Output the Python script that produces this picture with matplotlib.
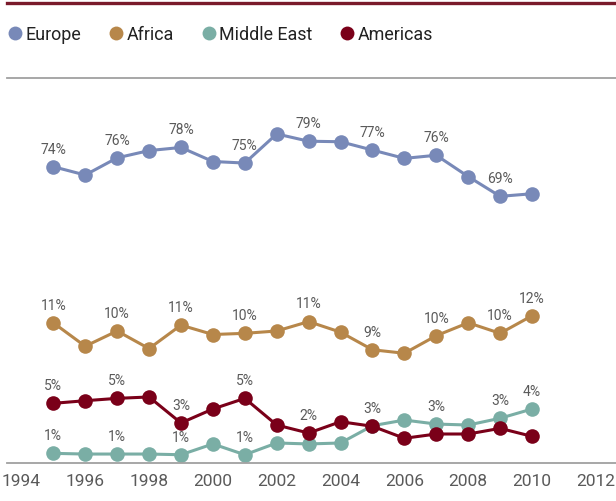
import numpy as np
import matplotlib
matplotlib.use('Agg')
import matplotlib.pyplot as plt
from matplotlib.lines import Line2D

plt.rcParams['font.family'] = ['Roboto', 'DejaVu Sans']

# data (share, %)
years = list(range(1995, 2011))
europe = [74.0, 72.4, 75.7, 77.1, 77.7, 75.0, 74.7, 80.3, 78.9, 78.8, 77.2, 75.6, 76.2, 72.1, 68.3, 68.8]
africa = [11.4, 9.4, 10.7, 9.2, 11.2, 10.4, 10.5, 10.7, 11.5, 10.6, 9.1, 8.8, 10.3, 11.4, 10.5, 12.0]
middle_east = [1.06, 1.01, 1.01, 1.01, 0.96, 1.74, 0.96, 1.81, 1.74, 1.81, 3.06, 3.47, 3.18, 3.11, 3.6, 4.27]
americas = [4.68, 4.87, 5.04, 5.14, 3.26, 4.27, 5.04, 3.11, 2.53, 3.35, 3.02, 2.15, 2.46, 2.46, 2.87, 2.29]

# printed point labels (None = no label)
europe_lbl = ['74%', None, '76%', None, '78%', None, '75%', None, '79%', None, '77%', None, '76%', None, '69%', None]
africa_lbl = ['11%', None, '10%', None, '11%', None, '10%', None, '11%', None, '9%', None, '10%', None, '10%', '12%']
middle_east_lbl = ['1%', None, '1%', None, '1%', None, '1%', None, None, None, '3%', None, '3%', None, '3%', '4%']
americas_lbl = ['5%', None, '5%', None, '3%', None, '5%', None, '2%', None, None, None, None, None, None, None]

names = ['Europe', 'Africa', 'Middle East', 'Americas']
colors = ['#7889b8', '#b7874a', '#7aaea5', '#7a0019']
xticks = list(range(1994, 2013, 2))

# broken-ish value axis: low shares stretched, high shares squeezed
val_knots = [0, 5.5, 13, 65, 95]
pos_knots = [33, 109, 197, 287.5, 443.5]


def fwd(v):
    return np.interp(v, val_knots, pos_knots)


def inv(p):
    return np.interp(p, pos_knots, val_knots)


fig = plt.figure(figsize=(6.16, 5.02), dpi=100)
ax = fig.add_axes([7 / 616, 37.7 / 502, 609 / 616, 385 / 502])
ax.set_yscale('function', functions=(fwd, inv))

series = [(europe, europe_lbl), (africa, africa_lbl),
          (middle_east, middle_east_lbl), (americas, americas_lbl)]
for (vals, lbls), c in zip(series, colors):
    ax.plot(years, vals, color=c, lw=2.2, marker='o', markersize=10.5,
            markeredgewidth=0, clip_on=False)
    for yr, v, t in zip(years, vals, lbls):
        if t is None:
            continue
        ax.annotate(t, (yr, v), xytext=(0, 8), textcoords='offset points',
                    ha='center', va='bottom', fontsize=10, color='#5a5a5a', zorder=5)

ax.set_xlim(1993.55, 2012.63)
ax.set_ylim(inv(37.7), inv(422.7))
ax.set_xticks(xticks)
ax.set_yticks([])
ax.minorticks_off()
ax.tick_params(axis='x', length=0, pad=7, labelsize=12.5, labelcolor='#5a5a5a')
for s in ['left', 'right']:
    ax.spines[s].set_visible(False)
for s in ['top', 'bottom']:
    ax.spines[s].set_color('#a0a0a0')
    ax.spines[s].set_linewidth(1.3)

# dark red rule at the very top
fig.add_artist(Line2D([7 / 616, 1], [1 - 4.3 / 502] * 2, color='#7a1a2b', lw=2.4))

handles = [Line2D([], [], ls='none', marker='o', markersize=10, markeredgewidth=0, color=c)
           for c in colors]
ax.legend(handles, names, ncol=4, loc='center left',
          bbox_to_anchor=(7.8 / 616, 1 - 35 / 502), bbox_transform=fig.transFigure,
          frameon=False, fontsize=12.9, handlelength=0.8, handletextpad=0.18,
          columnspacing=1.55, borderpad=0, borderaxespad=0, labelcolor='#222222')

fig.savefig('out.png', dpi=100)
